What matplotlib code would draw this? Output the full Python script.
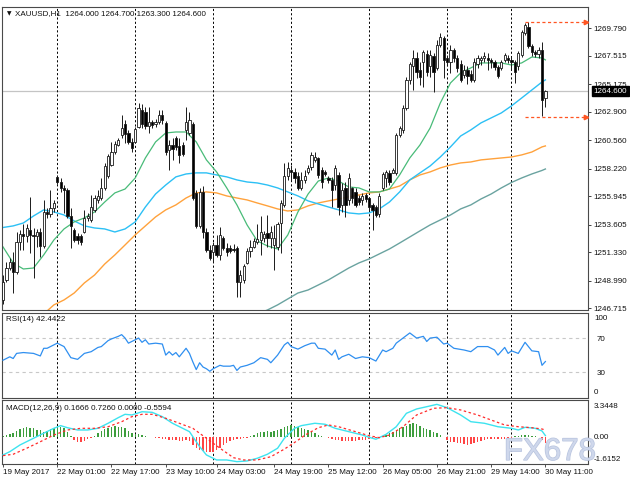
import matplotlib
matplotlib.use("Agg")
import matplotlib.pyplot as plt
import matplotlib.patheffects as pe
from matplotlib.patches import Rectangle

plt.rcParams['font.family'] = ['Liberation Sans', 'DejaVu Sans']

# ---------------- data ----------------
symbol = "XAUUSD,H1"
title_ohlc = ["1264.000", "1264.700", "1263.300", "1264.600"]

opens = [1247.40,1249.05,1250.03,1250.53,1249.70,1252.18,1252.84,1252.67,1253.17,1252.76,
         1252.67,1253.00,1251.85,1254.65,1254.49,1254.98,1257.54,1257.12,1256.63,1256.46,
         1254.32,1253.17,1252.67,1252.67,1253.00,1254.16,1253.99,1254.82,1255.64,1255.80,
         1256.63,1257.62,1258.52,1259.59,1260.17,1261.00,1261.90,1261.16,1260.42,1260.42,
         1261.66,1263.06,1262.89,1261.74,1262.07,1261.90,1262.07,1262.64,1261.99,1259.76,
         1260.17,1260.75,1260.09,1260.17,1261.41,1261.16,1261.90,1256.22,1253.50,1256.30,
         1253.00,1251.52,1251.35,1251.93,1251.11,1252.51,1251.68,1251.68,1251.60,1251.68,
         1248.88,1249.05,1250.45,1251.44,1251.77,1252.18,1252.34,1252.51,1252.92,1252.51,
         1251.93,1251.77,1253.74,1255.23,1257.62,1258.11,1257.95,1257.62,1256.63,1257.29,
         1257.95,1258.36,1258.94,1259.10,1258.11,1257.95,1257.45,1257.29,1256.87,1257.70,
         1255.23,1256.63,1255.64,1256.63,1256.30,1255.80,1255.64,1256.05,1255.80,1255.23,
         1255.06,1254.49,1256.63,1257.45,1257.87,1257.87,1257.87,1261.00,1261.41,1263.22,
         1265.53,1266.68,1267.34,1266.35,1267.01,1267.67,1266.68,1267.51,1266.52,1268.41,
         1268.99,1267.34,1267.01,1268.00,1267.34,1266.85,1265.94,1266.35,1266.02,1265.53,
         1266.85,1267.18,1267.34,1267.34,1267.18,1267.01,1266.60,1266.52,1267.18,1267.34,
         1267.18,1267.01,1266.68,1267.59,1269.40,1269.90,1268.33,1267.83,1267.67,1268.00,
         1264.00]
highs = [1249.45,1250.53,1250.86,1251.35,1253.00,1253.17,1253.66,1253.66,1255.89,1253.33,
         1253.25,1253.33,1255.64,1254.98,1256.46,1255.64,1257.70,1257.45,1256.87,1256.63,
         1254.98,1253.33,1252.92,1252.84,1254.82,1254.57,1256.05,1256.05,1256.46,1257.45,
         1258.69,1259.43,1260.42,1260.50,1260.75,1262.64,1262.23,1261.41,1260.75,1261.66,
         1263.63,1263.55,1263.30,1263.30,1262.23,1262.31,1263.06,1263.06,1262.15,1260.58,
         1260.75,1260.91,1260.75,1260.42,1263.30,1262.89,1262.07,1256.46,1256.63,1256.79,
         1253.33,1251.93,1252.18,1252.76,1253.41,1252.67,1252.09,1251.93,1252.01,1251.85,
         1249.87,1250.36,1251.68,1252.34,1252.51,1253.66,1254.32,1253.09,1254.40,1253.50,
         1253.58,1253.83,1255.64,1258.69,1258.77,1258.52,1258.28,1257.95,1257.95,1258.11,
         1258.52,1259.59,1259.59,1259.18,1258.36,1258.11,1257.62,1257.54,1258.52,1257.95,
         1257.04,1257.12,1257.87,1256.71,1256.63,1256.05,1256.22,1256.22,1255.89,1255.39,
         1255.23,1256.22,1257.95,1258.11,1258.11,1258.28,1261.16,1261.74,1263.47,1265.77,
         1267.01,1268.00,1267.83,1267.01,1268.00,1268.00,1268.00,1267.75,1268.82,1269.40,
         1269.15,1267.59,1268.41,1268.16,1267.59,1267.18,1266.76,1266.68,1266.35,1267.34,
         1267.59,1267.51,1267.83,1267.75,1267.34,1267.18,1266.76,1267.18,1267.75,1267.59,
         1267.51,1267.18,1267.92,1269.65,1270.23,1270.31,1268.49,1268.00,1268.25,1268.66,
         1264.70]
lows = [1247.07,1248.88,1249.87,1247.97,1249.54,1251.52,1251.52,1252.18,1251.27,1249.21,
        1251.77,1250.94,1251.68,1254.16,1254.24,1254.65,1256.96,1256.30,1254.57,1254.16,
        1251.68,1252.18,1252.01,1251.93,1252.92,1253.91,1253.83,1254.65,1255.39,1255.64,
        1256.46,1257.45,1258.44,1259.43,1260.09,1260.75,1260.34,1260.25,1259.59,1260.34,
        1261.57,1261.57,1261.49,1261.16,1261.57,1261.66,1261.90,1261.90,1259.35,1258.11,
        1258.94,1259.76,1258.69,1259.26,1260.58,1261.00,1255.64,1253.33,1253.33,1252.51,
        1251.35,1250.69,1250.53,1250.94,1250.69,1251.52,1251.02,1251.27,1251.35,1247.65,
        1247.65,1248.80,1250.36,1250.94,1251.68,1252.01,1251.11,1252.18,1251.77,1251.68,
        1249.87,1251.52,1251.27,1255.06,1257.29,1257.29,1257.04,1256.46,1256.46,1257.04,
        1257.78,1258.11,1258.77,1257.45,1256.63,1257.62,1257.04,1255.06,1256.46,1254.40,
        1254.65,1254.24,1255.23,1255.39,1255.06,1255.23,1255.23,1255.47,1254.82,1253.17,
        1254.24,1254.24,1256.46,1256.71,1256.87,1257.87,1257.70,1260.83,1261.16,1263.06,
        1265.20,1264.70,1265.69,1265.12,1264.95,1265.86,1265.77,1264.54,1266.35,1268.25,
        1265.69,1266.76,1266.11,1267.01,1266.19,1265.36,1265.69,1265.20,1265.36,1265.36,
        1266.52,1266.76,1267.01,1266.35,1266.52,1266.35,1265.69,1266.35,1267.01,1266.93,
        1266.35,1265.28,1266.35,1267.42,1269.24,1268.16,1267.51,1267.42,1267.34,1262.56,
        1263.30]
closes = [1248.88,1250.03,1250.53,1249.70,1252.18,1252.84,1252.67,1253.33,1252.76,1252.67,
          1253.00,1251.85,1254.65,1254.49,1254.98,1255.39,1257.12,1256.63,1256.46,1254.32,
          1253.50,1252.34,1252.34,1252.18,1254.16,1254.32,1255.06,1255.80,1255.97,1256.63,
          1258.44,1259.26,1259.59,1260.25,1260.58,1261.57,1261.08,1260.42,1259.92,1261.49,
          1263.22,1261.90,1261.74,1262.07,1261.82,1262.07,1262.64,1262.23,1259.59,1260.17,
          1259.84,1260.01,1259.35,1259.43,1262.07,1262.23,1255.80,1253.50,1256.30,1253.00,
          1251.52,1250.86,1251.93,1251.11,1252.76,1251.68,1251.35,1251.44,1251.52,1248.88,
          1249.45,1250.20,1251.44,1251.77,1252.26,1252.43,1253.00,1252.84,1252.51,1253.00,
          1252.51,1253.66,1255.39,1257.62,1258.28,1257.95,1257.45,1256.63,1257.29,1257.62,
          1258.28,1259.35,1259.18,1257.70,1257.12,1257.78,1257.29,1256.46,1258.28,1255.06,
          1256.46,1255.23,1257.45,1255.80,1255.23,1255.47,1255.97,1255.72,1255.06,1254.82,
          1254.40,1255.97,1257.78,1257.95,1257.12,1258.11,1261.00,1261.57,1263.22,1265.53,
          1266.85,1267.34,1266.19,1265.77,1267.83,1266.19,1267.59,1266.19,1268.41,1269.07,
          1267.18,1267.01,1268.00,1267.34,1266.52,1265.53,1266.35,1265.86,1265.53,1267.01,
          1267.34,1267.34,1267.51,1267.18,1267.01,1266.60,1265.86,1267.01,1267.59,1267.18,
          1267.01,1266.19,1267.75,1269.48,1270.06,1268.33,1267.83,1267.67,1268.00,1263.88,
          1264.60]

# moving averages, sampled at these bars
ma_bars = [0, 3, 6, 9, 12, 15, 18, 21, 24, 27, 30, 33, 36, 39, 42, 45, 48, 51, 54, 57,
           60, 63, 66, 69, 72, 75, 78, 81, 84, 87, 90, 93, 96, 99, 102, 105, 108, 111, 114, 117,
           120, 123, 126, 129, 132, 135, 138, 141, 144, 147, 150, 153, 156, 159, 160]
ma_green = [1251.77,1250.45,1249.95,1250.03,1251.11,1252.34,1253.25,1253.83,1254.16,1254.65,
            1255.47,1256.22,1256.54,1257.45,1259.10,1260.42,1261.16,1261.24,1261.24,1260.42,
            1258.94,1257.95,1256.63,1255.23,1253.58,1252.26,1251.85,1251.60,1252.75,1254.65,
            1256.13,1257.20,1257.45,1257.20,1256.71,1256.63,1256.30,1256.30,1256.54,1257.70,
            1259.10,1260.17,1261.57,1263.63,1265.28,1266.11,1266.52,1266.93,1266.93,1266.93,
            1266.76,1266.93,1267.42,1267.34,1267.18]
ma_blue = [1253.37,1253.50,1253.74,1254.32,1254.82,1254.65,1254.40,1253.91,1253.50,1253.33,
           1253.25,1253.00,1253.25,1253.83,1255.06,1256.13,1256.87,1257.54,1257.78,1257.87,
           1257.87,1257.70,1257.54,1257.29,1257.12,1257.04,1256.87,1256.63,1256.30,1255.97,
           1255.56,1255.31,1255.06,1254.82,1254.57,1254.49,1254.57,1254.90,1255.47,1256.30,
           1257.29,1257.87,1258.44,1259.18,1260.01,1260.91,1261.41,1261.99,1262.40,1262.81,
           1263.39,1264.04,1264.70,1265.36,1265.53]
ma_orange = [1246.24,1246.99,1247.40,1247.97,1248.80,1249.45,1250.36,1251.11,1251.93,1252.76,
             1253.50,1254.24,1254.82,1255.23,1255.80,1256.22,1256.30,1256.22,1255.97,1255.80,
             1255.64,1255.39,1255.15,1254.90,1254.73,1254.82,1255.15,1255.39,1255.56,1255.72,
             1255.89,1256.05,1256.22,1256.30,1256.54,1256.79,1257.29,1257.70,1257.95,1258.28,
             1258.52,1258.69,1258.77,1258.94,1259.02,1259.10,1259.18,1259.35,1259.59,1260.01,
             1260.09]
ma_teal = [1246.24,1246.57,1246.99,1247.48,1247.97,1248.22,1248.63,1249.05,1249.54,1250.03,
           1250.45,1250.78,1251.19,1251.60,1252.09,1252.59,1253.09,1253.58,1253.99,1254.40,
           1254.90,1255.23,1255.72,1256.13,1256.63,1257.08,1257.45,1257.78,1258.07,1258.19]

# previous high / low markers
hl_levels = [1270.33, 1262.48]
hl_start_bar = 154

price_ticks = [1269.790, 1267.515, 1265.175, 1262.900, 1260.560, 1258.220,
               1255.945, 1253.605, 1251.330, 1248.990, 1246.715]

# RSI(14)
rsi_bars = [0,2,3,4,6,9,11,12,13,15,16,18,20,22,24,26,28,29,31,32,34,35,36,37,39,40,41,42,43,45,
            47,48,49,50,51,52,54,55,56,57,58,59,60,61,62,63,64,65,67,68,69,70,72,74,76,78,79,81,83,84,
            85,87,89,91,92,93,95,97,98,99,100,102,104,106,108,110,112,113,115,116,118,120,122,124,125,126,
            128,130,131,133,136,138,140,143,145,146,148,149,150,152,154,155,156,158,159,160]
rsi_vals = [44,48,46,52,53,52,49,58,58,62,64,60,47,45,52,54,59,60,67,69,72,74,70,64,68,70,65,68,63,64,
            63,50,54,50,53,48,58,52,42,33,41,36,34,31,34,36,38,37,37,38,32,36,38,41,47,45,41,50,62,65,
            60,57,61,64,64,58,57,50,56,45,48,51,46,48,47,43,56,54,58,64,70,76,70,72,66,70,
            71,63,64,58,56,54,60,60,56,50,59,52,55,52,65,60,55,54,38,42.44]
rsi_levels = [70, 30]

# MACD(12,26,9)
macd_bars = [0,2,5,9,12,15,17,19,22,25,28,31,34,36,38,41,44,47,50,53,55,56,58,60,63,66,69,72,75,78,
             81,83,86,88,92,95,98,102,106,108,110,113,116,119,122,125,128,131,135,138,142,146,150,152,154,157,159,160]
macd_main = [-1.79,-1.46,-0.78,-0.10,0.41,0.91,1.18,0.97,0.74,0.74,0.91,1.42,1.99,2.33,2.26,2.59,2.53,2.09,1.42,0.91,
             0.57,0.06,-0.95,-1.79,-2.30,-2.30,-2.47,-2.40,-2.13,-1.72,-1.11,-0.10,0.91,1.18,1.42,1.32,0.91,0.57,0.23,0.0,
             -0.20,0.30,1.07,2.43,2.87,3.10,3.34,3.00,2.26,1.58,1.42,1.07,0.91,0.74,1.01,0.91,0.64,0.17]
signal_bars = [0,3,7,11,15,19,23,27,31,35,38,41,44,48,52,56,60,64,68,71,75,79,83,85,87,89,93,96,99,104,
               108,111,114,118,122,127,131,135,140,144,148,152,156,159,160]
macd_signal = [-1.86,-1.72,-1.11,-0.45,0.23,0.74,0.91,0.91,1.07,1.58,2.09,2.33,2.33,1.93,1.42,0.91,-0.10,-1.11,-2.07,-2.30,
               -2.30,-1.97,-1.20,-0.75,-0.30,0.20,0.97,1.25,1.07,0.57,0.16,-0.04,0.23,1.07,2.26,2.94,3.00,2.77,2.26,1.75,
               1.25,1.07,0.97,0.84,0.73]
macd_hist = [0.10,0.24,0.30,0.47,0.64,0.81,0.91,1.01,0.98,0.91,
             0.74,0.71,0.57,0.64,0.81,0.91,1.01,1.08,0.91,0.57,
             0.10,-0.27,-0.44,-0.44,-0.34,-0.20,-0.10,0.17,0.41,0.64,
             0.84,0.98,1.08,1.15,1.08,1.01,0.91,0.64,0.41,0.30,
             0.30,0.24,0.17,0.03,0.0,-0.07,-0.10,-0.14,-0.20,-0.24,
             -0.27,-0.30,-0.34,-0.34,-0.30,-0.37,-0.78,-1.11,-1.28,-1.39,
             -1.52,-1.52,-1.45,-1.28,-1.05,-0.78,-0.54,-0.37,-0.27,-0.20,
             -0.14,-0.10,-0.03,0.10,0.24,0.41,0.51,0.57,0.64,0.57,
             0.64,0.74,0.84,1.01,1.18,1.25,1.18,1.08,0.98,0.84,
             0.74,0.57,0.41,0.24,0.17,0.07,-0.03,-0.17,-0.24,-0.30,
             -0.37,-0.37,-0.34,-0.34,-0.34,-0.30,-0.27,-0.24,-0.17,-0.10,
             -0.07,0.03,0.10,0.24,0.41,0.57,0.74,0.91,1.08,1.18,
             1.32,1.42,1.39,1.18,0.98,0.84,0.74,0.57,0.41,0.24,
             0.03,-0.27,-0.44,-0.51,-0.54,-0.61,-0.71,-0.78,-0.71,-0.61,
             -0.51,-0.37,-0.27,-0.20,-0.20,-0.20,-0.20,-0.17,-0.17,-0.10,
             -0.03,0.10,0.17,0.20,0.24,0.20,0.17,0.14,0.03,-0.27,
             -0.56]
macd_label_vals = ["3.3448", "0.00", "-1.6152"]
macd_title = "MACD(12,26,9) 0.1666 0.7260 0.0000 -0.5594"
rsi_title = "RSI(14) 42.4422"

day_start_bars = [16, 39, 62, 85, 108, 131, 150]
time_label_bars = [0, 16, 32, 48, 63, 80, 96, 112, 128, 144, 160]
time_labels = ["19 May 2017", "22 May 01:00", "22 May 17:00", "23 May 10:00", "24 May 03:00",
               "24 May 19:00", "25 May 12:00", "26 May 05:00", "26 May 21:00", "29 May 14:00",
               "30 May 11:00"]

# ---------------- drawing ----------------
FS = 5.8
TXT = '#111111'
fig = plt.figure(figsize=(6.3, 4.9), dpi=100)
fig.patch.set_facecolor('white')
L, W = 2 / 630, 586 / 630
ax = fig.add_axes([L, 1 - 310 / 490, W, 303 / 490])
ax_rsi = fig.add_axes([L, 1 - 397.7 / 490, W, 85.2 / 490], sharex=ax)
ax_macd = fig.add_axes([L, 1 - 464.3 / 490, W, 64.3 / 490], sharex=ax)

n = len(closes)
for a in (ax, ax_rsi, ax_macd):
    a.set_facecolor('white')
    for s in a.spines.values():
        s.set_color('#4a4a4a')
        s.set_linewidth(0.8)
    for b in day_start_bars:
        a.axvline(b, color='black', lw=0.7, ls=(0, (2.2, 2.2)), zorder=1)

# current price line
ax.axhline(closes[-1], color='#c4c4c4', lw=0.9, zorder=0.5)

# moving averages
ax.plot(ma_bars[25:], ma_teal, color='#6aa3a0', lw=1.0, zorder=2)
ax.plot(ma_bars[4:], ma_orange, color='#ffa23c', lw=1.0, zorder=2)
ax.plot(ma_bars, ma_blue, color='#2cc0f5', lw=1.0, zorder=2)
ax.plot(ma_bars, ma_green, color='#48bb78', lw=0.9, zorder=2)

# candles
for i in range(n):
    o, h, l, c = opens[i], highs[i], lows[i], closes[i]
    bull = c >= o
    ax.vlines(i, l, h, color='#1a1a1a', lw=0.7, zorder=3)
    bottom = min(o, c)
    height = max(abs(c - o), 0.05)
    ax.add_patch(Rectangle((i - 0.33, bottom), 0.66, height,
                           facecolor='white' if bull else 'black',
                           edgecolor='#1a1a1a', lw=0.6, zorder=4))

# previous high/low dashed markers
for lv in hl_levels:
    ax.plot([hl_start_bar, 172.0], [lv, lv], color='#ff5522', lw=0.9,
            ls=(0, (2.5, 2)), zorder=3)
    ax.plot([172.0], [lv], marker='>', color='#ff5522', ms=3.2, zorder=3)

ax.set_xlim(-0.3, 172.57)
ax.set_ylim(1246.57, 1271.54)
ax.yaxis.tick_right()
ax.set_yticks(price_ticks)
ax.set_yticklabels([f"{v:.3f}" for v in price_ticks])
ax.tick_params(axis='y', length=2.5, width=0.6, pad=1.5, labelsize=FS,
               colors='#222222', labelcolor=TXT)
ax.tick_params(axis='x', length=0, labelbottom=False)

ax.text(0.009, 0.977, "\u25bc", transform=ax.transAxes, fontsize=4.2,
        color=TXT, va='center', ha='left', family=['DejaVu Sans'])
ax.text(0.0222, 0.977, symbol + "  " + " ".join(title_ohlc), transform=ax.transAxes,
        fontsize=FS, color=TXT, va='center', ha='left')

ax.annotate(f"{closes[-1]:.3f}", xy=(1, closes[-1]), xycoords=('axes fraction', 'data'),
            xytext=(4.2, 0), textcoords='offset points', fontsize=FS, color='white',
            va='center', ha='left',
            bbox=dict(boxstyle='square,pad=0.18', fc='black', ec='black'),
            annotation_clip=False, zorder=6)

# RSI panel
for lv in rsi_levels:
    ax_rsi.axhline(lv, color='#c8c8c8', lw=0.8, ls=(0, (3, 3)), zorder=0.5)
ax_rsi.plot(rsi_bars, rsi_vals, color='#2f8ff0', lw=0.9, zorder=3)
ax_rsi.set_ylim(0, 100)
ax_rsi.yaxis.tick_right()
ax_rsi.set_yticks(rsi_levels)
ax_rsi.set_yticklabels([str(v) for v in rsi_levels])
ax_rsi.tick_params(axis='y', length=0, pad=6, labelsize=FS, labelcolor=TXT)
ax_rsi.tick_params(axis='x', length=0, labelbottom=False)
ax_rsi.text(1.0102, 0.924, "100", transform=ax_rsi.transAxes, fontsize=FS, color=TXT,
            va='center', ha='left')
ax_rsi.text(1.0102, 0.059, "0", transform=ax_rsi.transAxes, fontsize=FS, color=TXT,
            va='center', ha='left')
ax_rsi.text(0.0068, 0.912, rsi_title, transform=ax_rsi.transAxes, fontsize=FS, color=TXT,
            va='center', ha='left')

# MACD panel
hist_colors = ['#3d9e3d' if v >= 0 else '#ff4444' for v in macd_hist]
ax_macd.bar(range(n), macd_hist, width=0.42, color=hist_colors, zorder=2)
ax_macd.plot(macd_bars, macd_main, color='#3de3ef', lw=1.0, zorder=3)
ax_macd.plot(signal_bars, macd_signal, color='#ff2a2a', lw=0.9, ls=(0, (2, 2)), zorder=3)
ax_macd.set_ylim(-2.74, 3.78)
ax_macd.set_yticks([])
for txt, fy in zip(macd_label_vals, [0.902, 0.42, 0.078]):
    ax_macd.text(1.0102, fy, txt, transform=ax_macd.transAxes, fontsize=FS, color=TXT,
                 va='center', ha='left')
ax_macd.text(0.0068, 0.871, macd_title, transform=ax_macd.transAxes, fontsize=FS,
             color=TXT, va='center', ha='left')
ax_macd.set_xticks(time_label_bars)
ax_macd.set_xticklabels(time_labels)
ax_macd.tick_params(axis='x', length=2.2, width=0.6, pad=1.3, labelsize=FS,
                    labelcolor=TXT, colors='#333333')
for lbl in ax_macd.get_xticklabels():
    lbl.set_horizontalalignment('left')

# watermark
fig.text(550 / 630, 1 - 452 / 490, "FX678", fontsize=22.5, color='#cfd8ec',
         ha='center', va='center', alpha=0.85, zorder=20,
         path_effects=[pe.withStroke(linewidth=0.9, foreground='#aebbd9')])

fig.savefig("out.png", dpi=100, facecolor='white')
